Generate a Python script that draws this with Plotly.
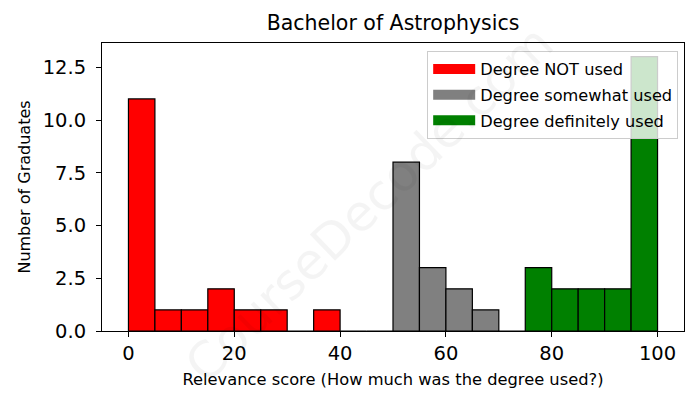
import plotly.graph_objects as go

bin_left = [0, 5, 10, 15, 20, 25, 30, 35, 40, 45, 50, 55, 60, 65, 70, 75, 80, 85, 90, 95]
not_used = [11, 1, 1, 2, 1, 1, 0, 1, 0, 0]          # bins 0-50
somewhat_used = [8, 3, 2, 1, 0]                      # bins 50-75
definitely_used = [3, 2, 2, 2, 13]                   # bins 75-100
bin_width = 5

series = [
    ("Degree NOT used", bin_left[0:10], not_used, "red"),
    ("Degree somewhat used", bin_left[10:15], somewhat_used, "gray"),
    ("Degree definitely used", bin_left[15:20], definitely_used, "green"),
]

fig = go.Figure()
for i, (name, lefts, counts, color) in enumerate(series):
    fig.add_trace(go.Bar(
        x=[l + bin_width / 2 for l in lefts],
        y=counts,
        width=bin_width,
        name=name,
        showlegend=False,
        marker=dict(color=color, line=dict(color="black", width=1.2)),
    ))
    # legend proxy (rectangle patch look)
    fig.add_trace(go.Scatter(
        x=[None], y=[None], mode="lines", name=name, legendgroup=f"g{i}",
        line=dict(color=color, width=13), showlegend=True,
    ))

font = "DejaVu Sans"
# window has an 8px body margin; figure size / margins compensate
fig.update_layout(
    width=690, height=400,
    margin=dict(l=94, r=14, t=35, b=77),
    paper_bgcolor="white", plot_bgcolor="white",
    font=dict(family=font, color="black"),
    barmode="overlay",
    title=dict(text="Bachelor of Astrophysics", x=(94 + 582 / 2) / 690, xanchor="center",
               y=1 - 15 / 400, yanchor="middle", font=dict(size=20.5)),
    legend=dict(x=0.99, y=0.972, xanchor="right", yanchor="top",
                bgcolor="rgba(255,255,255,0.8)", bordercolor="#cccccc", borderwidth=1,
                font=dict(size=16.2), tracegroupgap=1.5, itemwidth=42),
    showlegend=True,
)
fig.update_xaxes(range=[-5, 105], tickvals=[0, 20, 40, 60, 80, 100],
                 ticks="outside", ticklen=5, tickcolor="black", tickwidth=1,
                 showline=True, linecolor="black", linewidth=1, mirror=True,
                 showgrid=False, zeroline=False, tickfont=dict(size=19.5),
                 title=dict(text="Relevance score (How much was the degree used?)",
                            font=dict(size=16.3), standoff=9))
fig.update_yaxes(range=[0, 13.65], tickvals=[0, 2.5, 5, 7.5, 10, 12.5],
                 ticktext=["0.0", "2.5", "5.0", "7.5", "10.0", "12.5"],
                 ticks="outside", ticklen=5, tickcolor="black", tickwidth=1,
                 ticklabelstandoff=6,
                 showline=True, linecolor="black", linewidth=1, mirror=True,
                 showgrid=False, zeroline=False, tickfont=dict(size=19.5),
                 title=dict(text="Number of Graduates", font=dict(size=16), standoff=8))

fig.add_annotation(text="CourseDecode.com", xref="paper", yref="paper",
                   x=0.46, y=0.44, showarrow=False, textangle=-44,
                   font=dict(size=50, color="rgba(0,0,0,0.045)", family=font))

fig.write_html("out.html")
